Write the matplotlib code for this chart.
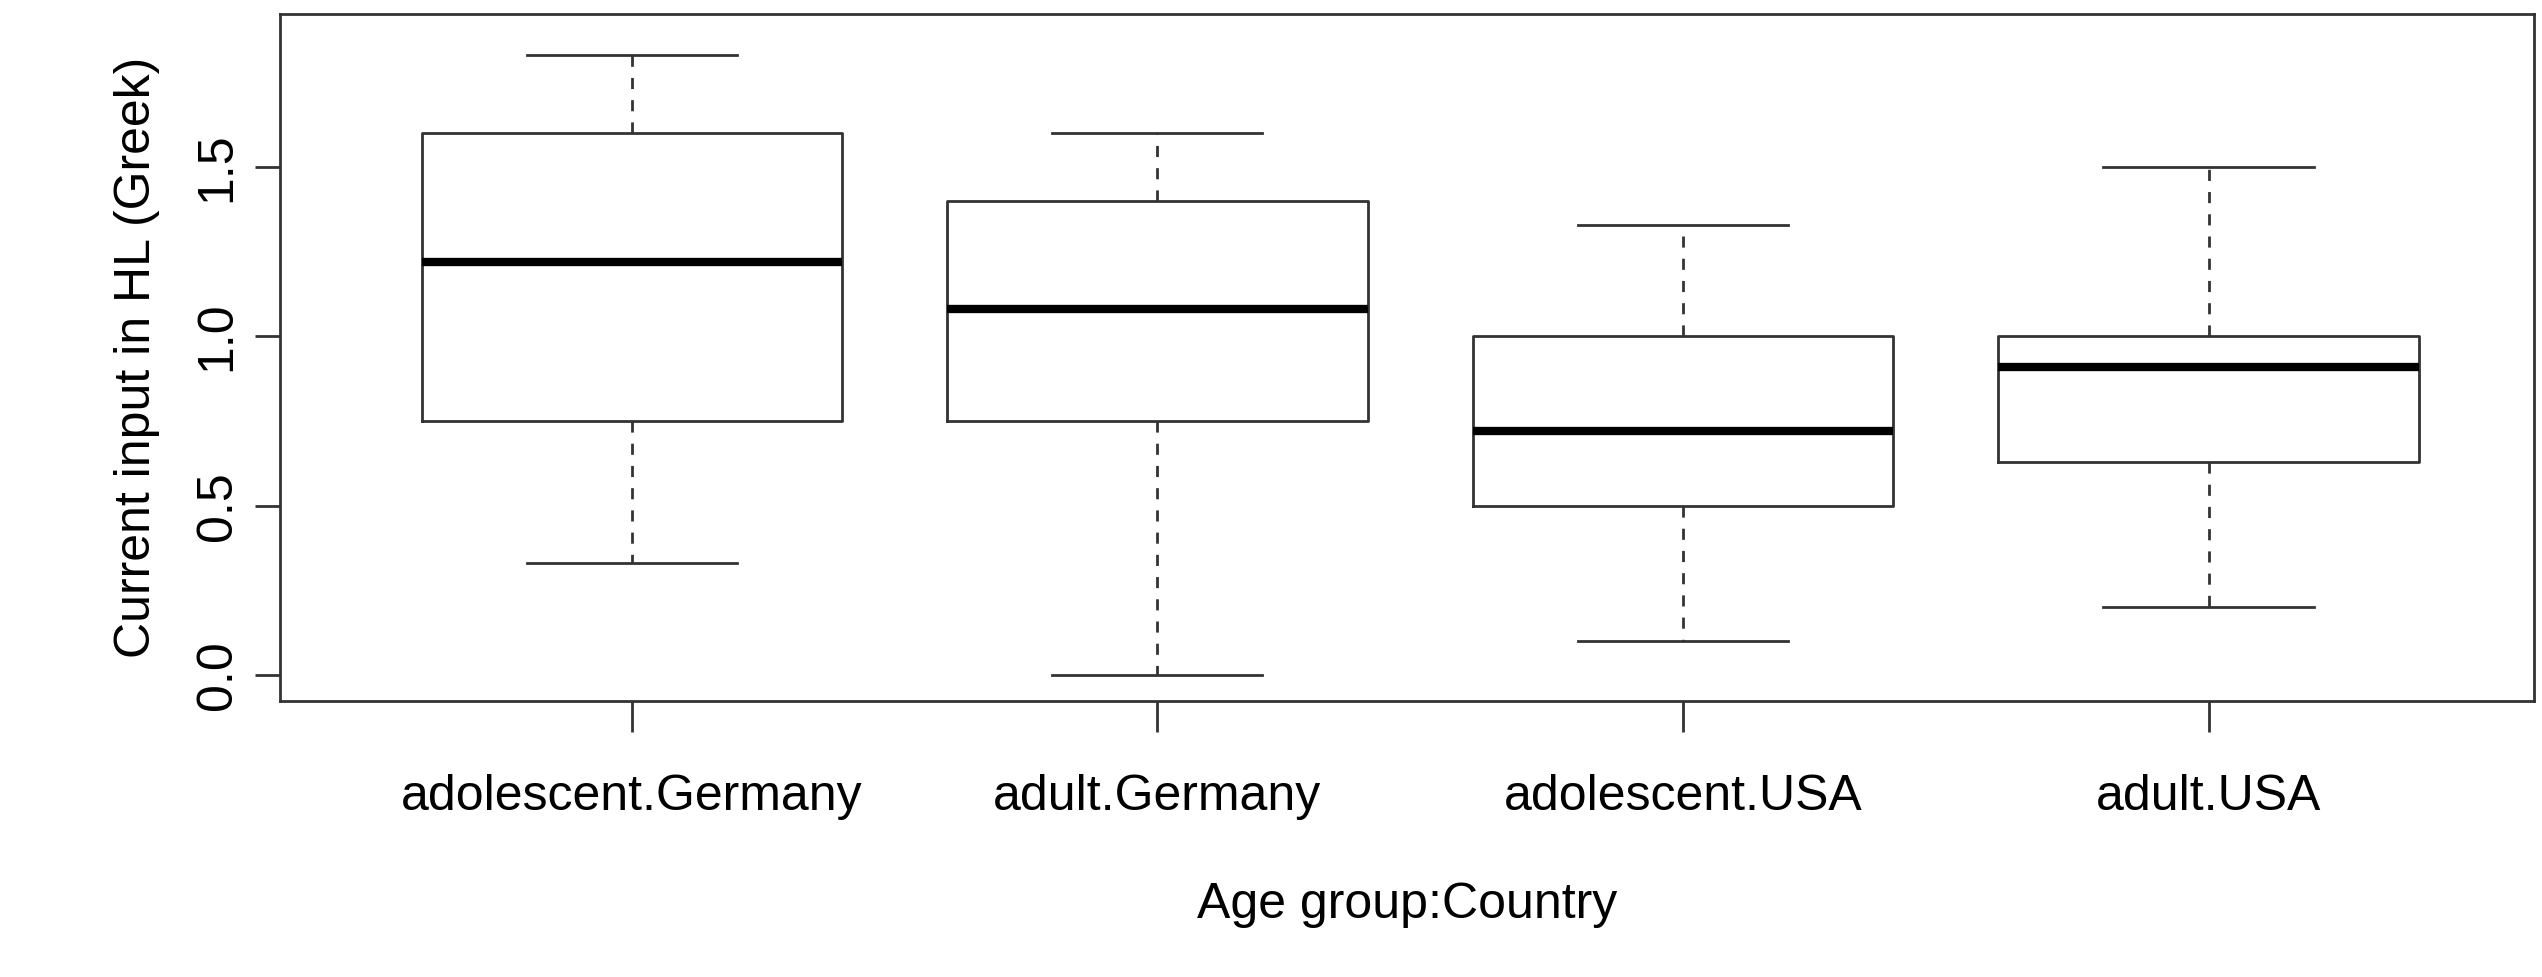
import matplotlib
matplotlib.use("Agg")
from matplotlib import pyplot as plt

plt.rcParams['font.family'] = ['Liberation Sans', 'DejaVu Sans']

# data
groups = ["adolescent.Germany", "adult.Germany", "adolescent.USA", "adult.USA"]
lows = [0.33, 0.0, 0.10, 0.20]
q1s = [0.75, 0.75, 0.50, 0.63]
meds = [1.22, 1.08, 0.72, 0.91]
q3s = [1.60, 1.40, 1.00, 1.00]
highs = [1.83, 1.60, 1.33, 1.50]

def main():
    stats = [{"whislo": lo, "q1": a, "med": m, "q3": b, "whishi": hi, "fliers": []}
             for lo, a, m, b, hi in zip(lows, q1s, meds, q3s, highs)]
    fig = plt.figure(figsize=(25.42, 9.77), dpi=100)
    ax = fig.add_axes([0.11, 0.282, 0.887, 0.704])
    ax.bxp(stats, positions=[1, 2, 3, 4], widths=0.8, showfliers=False,
           boxprops=dict(color="#333333", linewidth=2),
           whiskerprops=dict(color="#333333", linewidth=2, linestyle=(0, (4, 4))),
           capprops=dict(color="#333333", linewidth=2),
           medianprops=dict(color="black", linewidth=6),
           capwidths=0.4)
    ax.set_xlim(0.33, 4.62)
    ax.set_ylim(-0.078, 1.953)
    ax.set_xticks([1, 2, 3, 4])
    ax.set_xticklabels(groups, fontsize=36)
    ax.set_yticks([0, 0.5, 1.0, 1.5])
    ax.set_yticklabels(["0.0", "0.5", "1.0", "1.5"], fontsize=36, rotation=90, va="center")
    ax.tick_params(axis="x", length=22, width=2, pad=30, color="#333333")
    ax.tick_params(axis="y", length=18, width=2, pad=10, color="#333333")
    for s in ax.spines.values():
        s.set_linewidth(2)
        s.set_color("#333333")
    ax.set_xlabel("Age group:Country", fontsize=36, labelpad=45)
    ax.set_ylabel("Current input in HL (Greek)", fontsize=36, labelpad=25)
    fig.savefig("out.png", dpi=100)

if __name__ == "__main__":
    main()
